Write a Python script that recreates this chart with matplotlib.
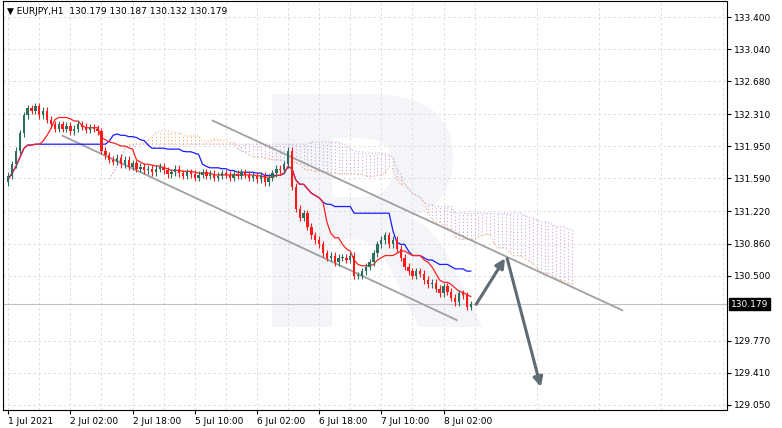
import numpy as np
import pandas as pd
import matplotlib.pyplot as plt

# hourly closes (EURJPY H1)
closes = [
    131.62, 131.75, 131.90, 132.10, 132.30, 132.38, 132.35,
    132.40, 132.30, 132.35, 132.25, 132.20, 132.15,
    132.20, 132.15, 132.18, 132.12, 132.15, 132.20, 132.17, 132.14, 132.16, 132.15, 132.12,
    131.90, 131.85, 131.80, 131.78, 131.82, 131.75, 131.80, 131.72, 131.76,
    131.70, 131.72, 131.68, 131.70, 131.66, 131.70, 131.72, 131.68, 131.64, 131.66,
    131.70, 131.65, 131.62, 131.66, 131.64, 131.60, 131.63, 131.66, 131.62, 131.64,
    131.60, 131.62, 131.65, 131.63, 131.60, 131.64, 131.62, 131.66, 131.63, 131.60,
    131.62, 131.58, 131.62,
    131.55, 131.60, 131.65, 131.70, 131.68, 131.75, 131.90,
    131.50, 131.25, 131.15, 131.20, 131.05, 130.95, 130.90, 130.85,
    130.75, 130.70, 130.72, 130.65, 130.70, 130.70, 130.68, 130.72, 130.50, 130.50,
    130.55, 130.60, 130.65, 130.75, 130.85,
    130.90, 130.95, 130.85, 130.90, 130.80,
    130.70, 130.60, 130.55, 130.50, 130.55, 130.52, 130.45, 130.40, 130.42, 130.35,
    130.30, 130.38, 130.32, 130.25, 130.20, 130.30, 130.28, 130.15, 130.179,
]
first_open = 131.55
wick = 0.04
last_price = '130.179'

yticks = [133.400, 133.040, 132.680, 132.310, 131.950, 131.590, 131.220,
          130.860, 130.500, 129.770, 129.410, 129.050]
xtick_pos = [0, 16, 32, 48, 64, 80, 96, 112]
xtick_labels = ['1 Jul 2021', '2 Jul 02:00', '2 Jul 18:00', '5 Jul 10:00',
                '6 Jul 02:00', '6 Jul 18:00', '7 Jul 10:00', '8 Jul 02:00']

# channel lines and forecast arrows (bar index, price)
upper_channel = [(52.6, 132.24), (158.0, 130.11)]
lower_channel = [(14.0, 132.07), (115.4, 130.00)]
forecast = [(120.0, 130.15), (128.2, 130.72), (137.2, 129.22)]

closes = np.array(closes)
opens = np.concatenate([[first_open], closes[:-1]])
highs = np.maximum(opens, closes) + wick
lows = np.minimum(opens, closes) - wick
n = len(closes)
hi = pd.Series(highs)
lo = pd.Series(lows)

def mid(p):
    return ((hi.rolling(p, min_periods=1).max() + lo.rolling(p, min_periods=1).min()) / 2).values

tenkan = mid(9)
kijun = mid(26)
span_a = (tenkan + kijun) / 2
span_b = mid(52)
cloud_x = np.arange(n) + 26

fig = plt.figure(figsize=(7.82, 4.28), dpi=100)
ax = fig.add_axes([0.004, 0.042, 0.926, 0.955])

ax.text(0.5, 0.42, 'R', transform=ax.transAxes, fontsize=230, color='#f3f5f8',
        ha='center', va='center', fontweight='bold', zorder=0)

for x, a, b in zip(cloud_x, span_a, span_b):
    col = '#f5b27a' if a >= b else '#c9a8d8'
    ax.vlines(x, min(a, b), max(a, b), colors=col, linestyles=(0, (1, 2)), lw=0.8, zorder=1)
ax.plot(cloud_x, span_a, color='#f5b27a', lw=0.8, ls=(0, (1, 2)), zorder=1)
ax.plot(cloud_x, span_b, color='#c9a8d8', lw=0.8, ls=(0, (1, 2)), zorder=1)

ax.plot(np.arange(n), kijun, color='#1a1aff', lw=0.9, zorder=3)
ax.plot(np.arange(n), tenkan, color='#ff2020', lw=0.9, zorder=3)

for i in range(n):
    col = '#2f6e5d' if closes[i] >= opens[i] else '#ff1a1a'
    ax.vlines(i, lows[i], highs[i], colors=col, lw=0.8, zorder=4)
    ax.bar(i, abs(closes[i] - opens[i]) or 0.005, bottom=min(opens[i], closes[i]),
           width=0.6, color=col, zorder=4)

for seg in (upper_channel, lower_channel):
    ax.plot([seg[0][0], seg[1][0]], [seg[0][1], seg[1][1]], color='#a0a0a0', lw=1.3, zorder=2)
for (x0, y0), (x1, y1) in zip(forecast[:-1], forecast[1:]):
    ax.annotate('', xy=(x1, y1), xytext=(x0, y0),
                arrowprops=dict(arrowstyle='-|>', color='#5f6b75', lw=2.2, mutation_scale=14), zorder=5)

ax.axhline(closes[-1], color='#c0c0c0', lw=0.8, zorder=1)

ax.set_xlim(-1.3, 185)
ax.set_ylim(128.99, 133.58)
ax.yaxis.tick_right()
ax.set_yticks(yticks)
ax.set_yticklabels([f'{v:.3f}' for v in yticks], fontsize=6.5)
ax.set_xticks(xtick_pos)
ax.set_xticklabels(xtick_labels, fontsize=6.5, ha='left')
ax.tick_params(length=3, pad=2, colors='black')
ax.grid(True, color='#d8d8d8', ls=(0, (3, 3)), lw=0.6)
ax.set_axisbelow(True)
ax.set_xticks(np.arange(8, 185, 16), minor=True)
ax.grid(True, which='minor', axis='x', color='#d8d8d8', ls=(0, (3, 3)), lw=0.6)
ax.tick_params(which='minor', length=0)
for s in ax.spines.values():
    s.set_color('black')
    s.set_linewidth(0.8)

ax.text(1.005, closes[-1], last_price, transform=ax.get_yaxis_transform(),
        fontsize=6.5, color='white', va='center', ha='left',
        bbox=dict(boxstyle='square,pad=0.2', fc='black', ec='black'), zorder=6)
ax.text(0.005, 0.985, '\u25bc EURJPY,H1  130.179 130.187 130.132 130.179', transform=ax.transAxes,
        fontsize=6.5, va='top', ha='left')

fig.savefig('out.png', dpi=100)
